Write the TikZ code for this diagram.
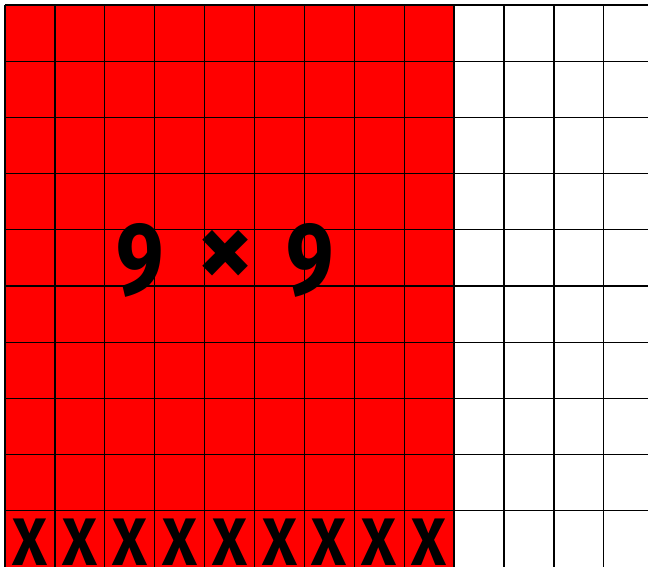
\documentclass[tikz,border=0pt]{standalone}
\usepackage{fontspec}
\newfontfamily\fira{Fira Sans}
\tikzset{
  gridline/.style={line width=1.3pt, draw=black},
  bigtxt/.style={inner sep=0pt, font=\fira\bfseries\fontsize{103}{103}\selectfont, xscale=0.82, transform shape},
  timestxt/.style={inner sep=0pt, font=\fira\bfseries\fontsize{112}{112}\selectfont},
  xtxt/.style={inner sep=0pt, font=\fira\bfseries\fontsize{60}{60}\selectfont, yscale=1.12, transform shape}
}
\begin{document}
\begin{tikzpicture}[x=1pt,y=-1pt]
\useasboundingbox (0,0) rectangle (648,566);
\clip (0,0) rectangle (648,566);
\fill[white] (0,0) rectangle (648,566);
\fill[red] (5,5) rectangle (454.1,570);
\foreach \i in {0,...,12} {
  \draw[gridline] ({5+\i*49.9},5) -- ({5+\i*49.9},570);
}
\foreach \j in {0,...,9} {
  \draw[gridline] (5,{5+\j*56.2}) -- (650,{5+\j*56.2});
}
\node[bigtxt, anchor=base] (n1) at (140.5,294) {9};
\node[timestxt, anchor=center] (tm) at (226,259) {×};
\node[bigtxt, anchor=base] (n2) at (310.5,294) {9};
\foreach \k in {0,...,8} {
  \node[xtxt, anchor=north] (x\k) at ({30+\k*49.9},519) {X};
}
\end{tikzpicture}
\end{document}
